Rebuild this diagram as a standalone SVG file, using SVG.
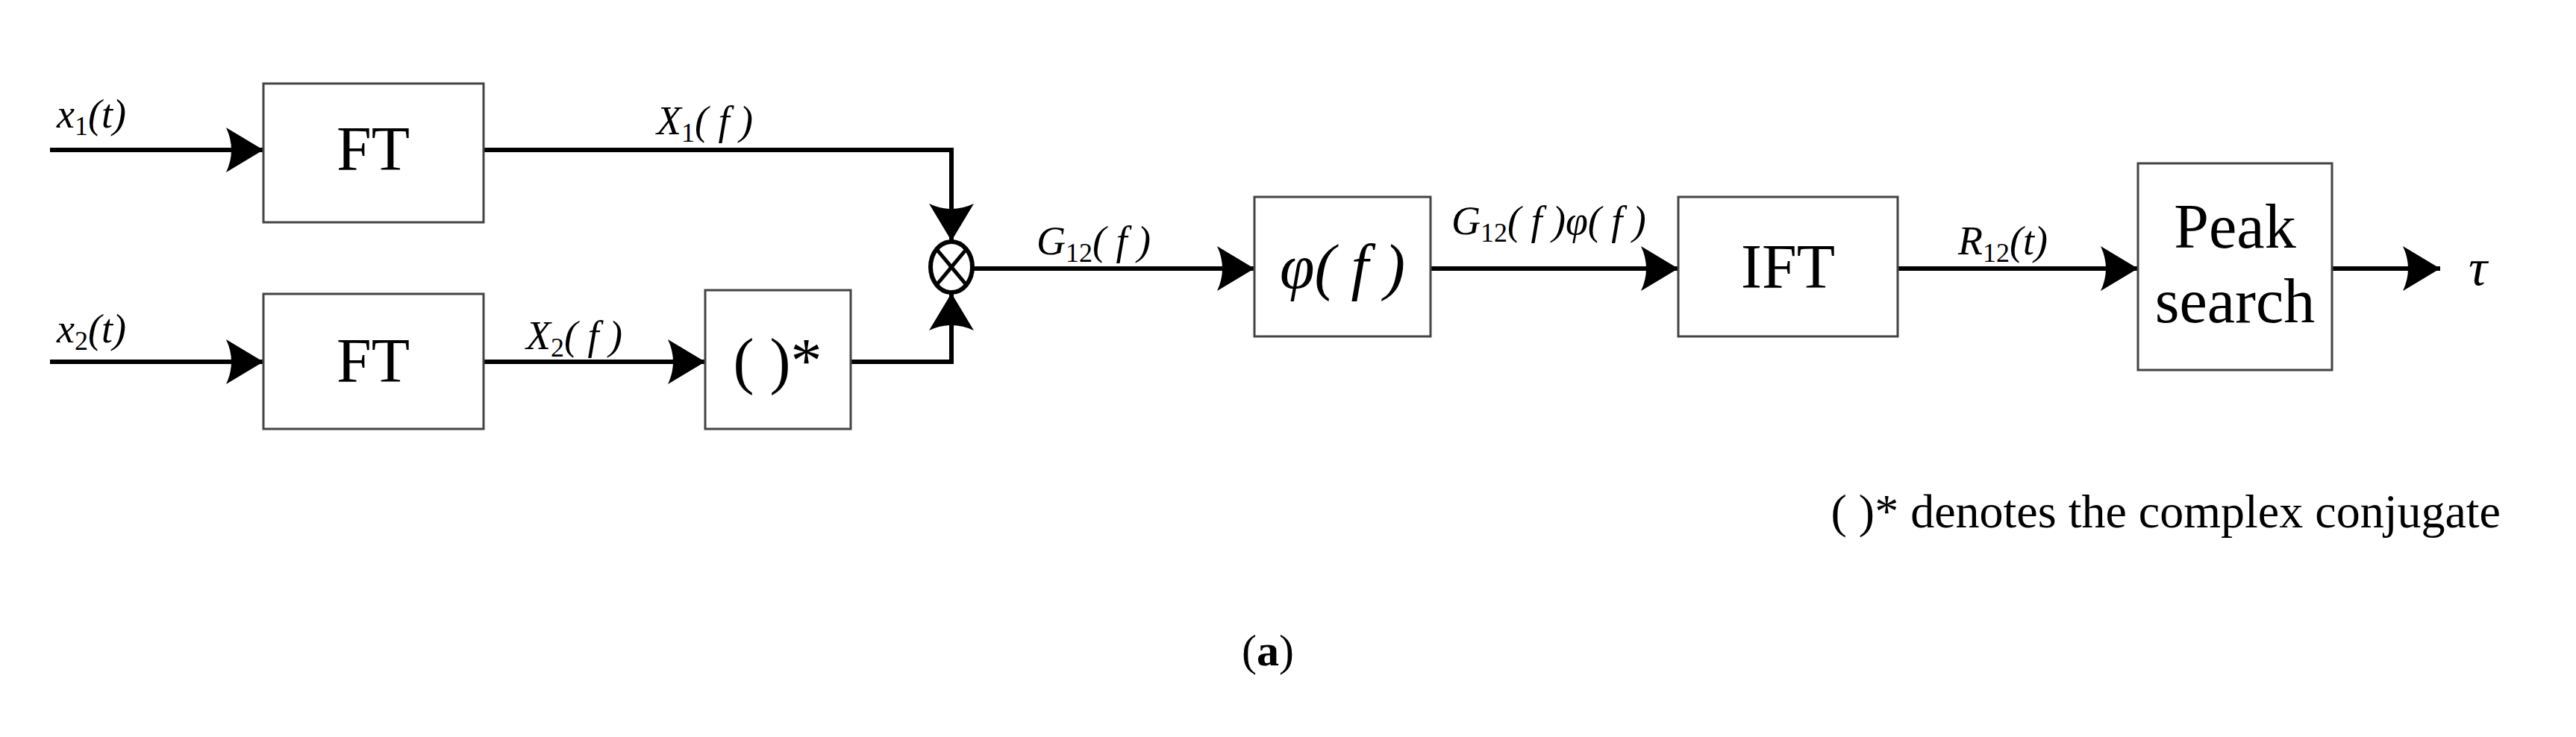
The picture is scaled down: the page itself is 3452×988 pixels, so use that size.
<svg xmlns="http://www.w3.org/2000/svg" width="3452" height="988" viewBox="0 0 3452 988">
<style>
.box{fill:#fff;stroke:#444;stroke-width:3}
.ln{fill:none;stroke:#000;stroke-width:6}
.t{font-family:"Liberation Serif",serif;fill:#000}
.big{font-size:84px}
.lab{font-size:54px;font-style:italic}
.sub{font-size:36px;font-style:normal}
</style>
<defs>
<marker id="ah" markerUnits="userSpaceOnUse" markerWidth="50" markerHeight="60" refX="50" refY="30" orient="auto">
<path d="M0,0 L50,30 L0,60 Q14,30 0,0 Z" fill="#000"/>
</marker>
</defs>
<rect width="3452" height="988" fill="#fff"/>
<g id="connectors">
<line class="ln" x1="67" y1="201" x2="353" y2="201" marker-end="url(#ah)"/>
<line class="ln" x1="67" y1="485" x2="353" y2="485" marker-end="url(#ah)"/>
<polyline class="ln" points="648,201 1275,201 1275,323" marker-end="url(#ah)"/>
<line class="ln" x1="648" y1="485" x2="945" y2="485" marker-end="url(#ah)"/>
<polyline class="ln" points="1140,485 1275,485 1275,393" marker-end="url(#ah)"/>
<line class="ln" x1="1305" y1="360" x2="1681" y2="360" marker-end="url(#ah)"/>
<line class="ln" x1="1917" y1="360" x2="2249" y2="360" marker-end="url(#ah)"/>
<line class="ln" x1="2543" y1="360" x2="2865" y2="360" marker-end="url(#ah)"/>
<line class="ln" x1="3125" y1="360" x2="3270" y2="360" marker-end="url(#ah)"/>
</g>
<g id="ft1"><rect class="box" x="353" y="112" width="295" height="186"/><text class="t big" x="500" y="228" text-anchor="middle">FT</text></g>
<g id="ft2"><rect class="box" x="353" y="394" width="295" height="181"/><text class="t big" x="500" y="512" text-anchor="middle">FT</text></g>
<g id="conj"><rect class="box" x="945" y="389" width="195" height="186"/><text class="t big" x="1042" y="512" text-anchor="middle">( )*</text></g>
<g id="mult"><ellipse cx="1275" cy="358" rx="28" ry="34" fill="#fff" stroke="#000" stroke-width="6"/>
<line x1="1255" y1="334" x2="1295" y2="382" stroke="#000" stroke-width="5"/><line x1="1295" y1="334" x2="1255" y2="382" stroke="#000" stroke-width="5"/></g>
<g id="phi"><rect class="box" x="1681" y="264" width="236" height="187"/><text class="t big" x="1799" y="386" text-anchor="middle" font-style="italic">φ( f )</text></g>
<g id="ift"><rect class="box" x="2249" y="264" width="294" height="187"/><text class="t big" x="2396" y="386" text-anchor="middle">IFT</text></g>
<g id="peak"><rect class="box" x="2865" y="219" width="260" height="277"/><text class="t big" x="2995" y="332" text-anchor="middle">Peak</text><text class="t big" x="2995" y="432" text-anchor="middle">search</text></g>
<g id="labels">
<text class="t lab" x="76" y="171">x<tspan class="sub" dy="10">1</tspan><tspan dy="-10">(t)</tspan></text>
<text class="t lab" x="76" y="459">x<tspan class="sub" dy="10">2</tspan><tspan dy="-10">(t)</tspan></text>
<text class="t lab" x="880" y="180">X<tspan class="sub" dy="10">1</tspan><tspan dy="-10">( f )</tspan></text>
<text class="t lab" x="705" y="468">X<tspan class="sub" dy="10">2</tspan><tspan dy="-10">( f )</tspan></text>
<text class="t lab" x="1389" y="341">G<tspan class="sub" dy="10">12</tspan><tspan dy="-10">( f )</tspan></text>
<text class="t lab" x="1945" y="314">G<tspan class="sub" dy="10">12</tspan><tspan dy="-10">( f )φ( f )</tspan></text>
<text class="t lab" x="2624" y="341">R<tspan class="sub" dy="10">12</tspan><tspan dy="-10">(t)</tspan></text>
<text class="t" x="3308" y="382" font-size="70" font-style="italic">τ</text>
<text class="t" x="3351" y="707" font-size="64" text-anchor="end">( )* denotes the complex conjugate</text>
<text class="t" x="1699" y="892" font-size="60" text-anchor="middle">(<tspan font-weight="bold">a</tspan>)</text>
</g>
</svg>
